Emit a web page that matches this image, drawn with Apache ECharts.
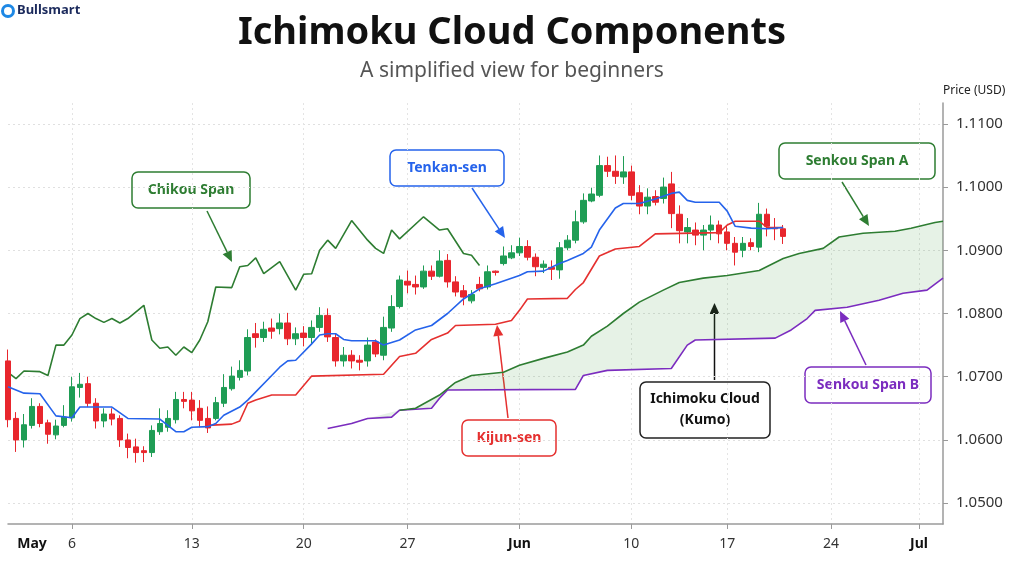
<!DOCTYPE html>
<html>
<head>
<meta charset="utf-8">
<title>Ichimoku Cloud Components</title>
<script src="https://cdn.jsdelivr.net/npm/echarts@6/dist/echarts.min.js"></script>
<style>
  html, body { margin: 0; padding: 0; background: #fff; }
  #chart { width: 1024px; height: 576px; }
</style>
</head>
<body>
<div id="chart"></div>
<script>
// x axis is counted in candle periods ("slots")
const slotCount = 118;
const tickSlots = [3, 8, 23, 37, 50, 64, 78, 90, 103, 114];
const tickLabels = ['May', '6', '13', '20', '27', 'Jun', '10', '17', '24', 'Jul'];
const monthLabels = ['May', 'Jun', 'Jul'];
const priceTicks = [1.05, 1.06, 1.07, 1.08, 1.09, 1.10, 1.11];

// candles: [open, close, low, high]
const candles = [
  [1.0725, 1.0632, 1.0620, 1.0743], [1.0634, 1.0600, 1.0581, 1.0644], [1.0600, 1.0624, 1.0588, 1.0641],
  [1.0623, 1.0653, 1.0618, 1.0666], [1.0653, 1.0626, 1.0620, 1.0658], [1.0627, 1.0609, 1.0594, 1.0632],
  [1.0608, 1.0622, 1.0601, 1.0632], [1.0623, 1.0636, 1.0620, 1.0655], [1.0635, 1.0684, 1.0629, 1.0700],
  [1.0683, 1.0688, 1.0667, 1.0706], [1.0689, 1.0658, 1.0652, 1.0700], [1.0658, 1.0630, 1.0618, 1.0666],
  [1.0630, 1.0641, 1.0620, 1.0650], [1.0641, 1.0633, 1.0623, 1.0650], [1.0634, 1.0600, 1.0589, 1.0639],
  [1.0600, 1.0588, 1.0571, 1.0610], [1.0589, 1.0580, 1.0564, 1.0602], [1.0583, 1.0580, 1.0565, 1.0590],
  [1.0580, 1.0615, 1.0573, 1.0623], [1.0613, 1.0626, 1.0608, 1.0650], [1.0620, 1.0634, 1.0613, 1.0647],
  [1.0632, 1.0664, 1.0626, 1.0676], [1.0664, 1.0661, 1.0650, 1.0676], [1.0663, 1.0646, 1.0631, 1.0676],
  [1.0650, 1.0631, 1.0620, 1.0663], [1.0634, 1.0619, 1.0611, 1.0653], [1.0634, 1.0659, 1.0631, 1.0668],
  [1.0658, 1.0683, 1.0652, 1.0704], [1.0681, 1.0701, 1.0678, 1.0716], [1.0699, 1.0710, 1.0694, 1.0726],
  [1.0709, 1.0762, 1.0702, 1.0775], [1.0768, 1.0762, 1.0746, 1.0785], [1.0762, 1.0775, 1.0755, 1.0787],
  [1.0777, 1.0772, 1.0760, 1.0792], [1.0776, 1.0785, 1.0767, 1.0800], [1.0785, 1.0760, 1.0750, 1.0801],
  [1.0760, 1.0768, 1.0750, 1.0778], [1.0769, 1.0762, 1.0748, 1.0780], [1.0762, 1.0778, 1.0752, 1.0789],
  [1.0778, 1.0797, 1.0771, 1.0810], [1.0797, 1.0763, 1.0755, 1.0808], [1.0762, 1.0725, 1.0716, 1.0768],
  [1.0725, 1.0734, 1.0716, 1.0747], [1.0734, 1.0725, 1.0713, 1.0742], [1.0726, 1.0723, 1.0710, 1.0734],
  [1.0725, 1.0750, 1.0716, 1.0762], [1.0755, 1.0736, 1.0731, 1.0759], [1.0734, 1.0778, 1.0726, 1.0795],
  [1.0777, 1.0811, 1.0771, 1.0829], [1.0811, 1.0853, 1.0808, 1.0860], [1.0851, 1.0845, 1.0832, 1.0868],
  [1.0846, 1.0842, 1.0830, 1.0860], [1.0842, 1.0867, 1.0839, 1.0876], [1.0867, 1.0859, 1.0853, 1.0876],
  [1.0859, 1.0883, 1.0857, 1.0900], [1.0884, 1.0850, 1.0841, 1.0894], [1.0850, 1.0834, 1.0827, 1.0859],
  [1.0836, 1.0826, 1.0813, 1.0845], [1.0820, 1.0830, 1.0816, 1.0837], [1.0846, 1.0839, 1.0835, 1.0858],
  [1.0842, 1.0866, 1.0838, 1.0876], [1.0867, 1.0865, 1.0860, 1.0868], [1.0879, 1.0891, 1.0876, 1.0906],
  [1.0888, 1.0896, 1.0886, 1.0908], [1.0896, 1.0906, 1.0891, 1.0920], [1.0906, 1.0889, 1.0884, 1.0916],
  [1.0889, 1.0874, 1.0859, 1.0895], [1.0873, 1.0878, 1.0864, 1.0884], [1.0873, 1.0870, 1.0853, 1.0884],
  [1.0869, 1.0904, 1.0855, 1.0913], [1.0904, 1.0916, 1.0900, 1.0924], [1.0916, 1.0945, 1.0911, 1.0963],
  [1.0945, 1.0979, 1.0942, 1.0990], [1.0978, 1.0989, 1.0976, 1.0999], [1.0987, 1.1034, 1.0984, 1.1050],
  [1.1034, 1.1025, 1.1016, 1.1048], [1.1025, 1.1017, 1.1005, 1.1050], [1.1016, 1.1024, 1.1005, 1.1049],
  [1.1024, 1.0987, 1.0979, 1.1034], [1.0991, 1.0970, 1.0957, 1.1003], [1.0970, 1.0984, 1.0957, 1.0998],
  [1.0985, 1.0976, 1.0971, 1.0995], [1.0982, 1.1000, 1.0974, 1.1015], [1.1005, 1.0958, 1.0935, 1.1024],
  [1.0957, 1.0931, 1.0911, 1.0971], [1.0929, 1.0936, 1.0911, 1.0951], [1.0932, 1.0924, 1.0908, 1.0944],
  [1.0924, 1.0932, 1.0900, 1.0940], [1.0932, 1.0940, 1.0916, 1.0955], [1.0940, 1.0926, 1.0911, 1.0947],
  [1.0929, 1.0911, 1.0900, 1.0940], [1.0911, 1.0897, 1.0876, 1.0921], [1.0900, 1.0911, 1.0889, 1.0921],
  [1.0912, 1.0906, 1.0900, 1.0919], [1.0905, 1.0957, 1.0897, 1.0975], [1.0957, 1.0938, 1.0922, 1.0966],
  [1.0936, 1.0934, 1.0916, 1.0951], [1.0934, 1.0922, 1.0910, 1.0940]
];

// ichimoku lines, vertices as [slot, price]
const tenkan = [
  [0, 1.0684], [2, 1.0674], [4, 1.0673], [6, 1.0638], [8, 1.0635], [9, 1.0652], [13, 1.0652], [15, 1.0634],
  [19, 1.0633], [21, 1.0613], [22, 1.0613], [23, 1.0620], [25, 1.0621], [26, 1.0626], [27, 1.0639], [29, 1.0652],
  [30, 1.0663], [33, 1.0702], [34, 1.0715], [35, 1.0725], [36, 1.0726], [38, 1.0752], [39, 1.0766], [40, 1.0768],
  [41, 1.0768], [42, 1.0759], [43, 1.0757], [46, 1.0757], [47, 1.0750], [49, 1.0758], [51, 1.0774], [53, 1.0781],
  [55, 1.0800], [57, 1.0823], [59, 1.0839], [61, 1.0847], [64, 1.0860], [65, 1.0866], [67, 1.0867], [69, 1.0879],
  [70, 1.0884], [72, 1.0895], [73, 1.0905], [74, 1.0932], [76, 1.0967], [77, 1.0974], [79, 1.0974], [81, 1.0981],
  [83, 1.0990], [84, 1.0992], [85, 1.0979], [86, 1.0976], [89, 1.0976], [90, 1.0962], [91, 1.0938], [93, 1.0935],
  [95, 1.0934], [97, 1.0936]
];
const kijun = [
  [25, 1.0623], [28, 1.0625], [29, 1.0630], [30, 1.0658], [31, 1.0663], [33, 1.0671], [36, 1.0671], [38, 1.0701],
  [47, 1.0704], [49, 1.0732], [51, 1.0737], [53, 1.0759], [55, 1.0769], [56, 1.0781], [61, 1.0783], [63, 1.0789],
  [64, 1.0805], [65, 1.0823], [70, 1.0824], [71, 1.0838], [72, 1.0849], [74, 1.0891], [76, 1.0902], [79, 1.0906],
  [80, 1.0916], [81, 1.0926], [89, 1.0928], [90, 1.0940], [91, 1.0946], [94, 1.0946], [95, 1.0936], [97, 1.0936]
];
const chikou = [
  [0, 1.0707], [1, 1.0697], [2, 1.0709], [4, 1.0708], [5, 1.0702], [6, 1.0750], [7, 1.0750], [8, 1.0766],
  [9, 1.0792], [10, 1.0800], [11, 1.0792], [12, 1.0786], [13, 1.0792], [14, 1.0785], [15, 1.0792], [17, 1.0813],
  [18, 1.0758], [19, 1.0745], [20, 1.0747], [21, 1.0734], [22, 1.0747], [23, 1.0738], [24, 1.0758], [25, 1.0787],
  [26, 1.0842], [28, 1.0841], [29, 1.0874], [30, 1.0876], [31, 1.0888], [32, 1.0863], [34, 1.0882], [36, 1.0837],
  [37, 1.0862], [38, 1.0863], [39, 1.0900], [40, 1.0916], [41, 1.0903], [43, 1.0947], [45, 1.0916], [46, 1.0903],
  [47, 1.0895], [48, 1.0932], [49, 1.0918], [52, 1.0953], [54, 1.0932], [55, 1.0934], [57, 1.0895], [58, 1.0892],
  [59, 1.0876]
];
const senkouA = [
  [49, 1.0647], [51, 1.0650], [54, 1.0671], [56, 1.0691], [58, 1.0702], [62, 1.0707], [64, 1.0718], [67, 1.0729],
  [70, 1.0739], [72, 1.0750], [73, 1.0764], [75, 1.0780], [77, 1.0800], [79, 1.0818], [82, 1.0837], [84, 1.0849],
  [87, 1.0856], [90, 1.0860], [94, 1.0868], [97, 1.0887], [99, 1.0895], [102, 1.0903], [104, 1.0921], [107, 1.0927],
  [111, 1.0930], [113, 1.0935], [116, 1.0944], [117, 1.0946]
];
const senkouB = [
  [40, 1.0618], [43, 1.0626], [45, 1.0634], [48, 1.0636], [49, 1.0647], [53, 1.0650], [54, 1.0666], [55, 1.0679],
  [71, 1.0680], [72, 1.0702], [75, 1.0710], [83, 1.0713], [85, 1.0750], [86, 1.0758], [96, 1.0761], [98, 1.0774],
  [100, 1.0792], [101, 1.0805], [105, 1.0810], [109, 1.0821], [112, 1.0832], [115, 1.0837], [117, 1.0856]
];

const FONT = "'Noto Sans', 'Open Sans', sans-serif";
const GREEN = '#2e7d32';
const BLUE = '#2563eb';
const RED = '#e5302f';
const PURPLE = '#7b2cbf';

const chart = echarts.init(document.getElementById('chart'));

// callout box with bold text
function callout(x, y, w, h, text, color, textColor) {
  return {
    type: 'group', x: x, y: y, z: 100,
    children: [
      { type: 'rect', shape: { x: 0, y: 0, width: w, height: h, r: 6 },
        style: { fill: '#fff', stroke: color, lineWidth: 1.5 } },
      { type: 'text', style: { text: text, x: w / 2, y: h / 2, align: 'center', verticalAlign: 'middle',
          fill: textColor || color, fontSize: 14, fontWeight: 'bold', fontFamily: FONT, lineHeight: 21 } }
    ]
  };
}

// straight arrow with filled head at (x2, y2)
function arrow(x1, y1, x2, y2, color) {
  const len = Math.hypot(x2 - x1, y2 - y1);
  const dx = (x2 - x1) / len, dy = (y2 - y1) / len;
  const bx = x2 - dx * 11, by = y2 - dy * 11;
  return {
    type: 'group', z: 100,
    children: [
      { type: 'line', shape: { x1: x1, y1: y1, x2: bx, y2: by }, style: { stroke: color, lineWidth: 1.5 } },
      { type: 'polygon', shape: { points: [[x2, y2], [bx - dy * 5, by + dx * 5], [bx + dy * 5, by - dx * 5]] },
        style: { fill: color } }
    ]
  };
}

function lineSeries(name, data, color, z) {
  return {
    name: name, type: 'line', data: data, showSymbol: false, symbol: 'none',
    connectNulls: true, z: z,
    lineStyle: { color: color, width: 1.6 },
    emphasis: { disabled: true }
  };
}

const slots = Array.from({ length: slotCount }, (_, i) => String(i));

const option = {
  animation: false,
  backgroundColor: '#fff',
  title: [
    { text: 'Ichimoku Cloud Components', left: 'center', top: 9,
      textStyle: { fontSize: 38, fontWeight: 'bold', color: '#111', fontFamily: FONT } },
    { text: 'A simplified view for beginners', left: 'center', top: 56,
      textStyle: { fontSize: 21, fontWeight: 'normal', color: '#555', fontFamily: FONT } }
  ],
  grid: { left: 8, right: 81, top: 103, bottom: 52 },
  xAxis: {
    type: 'category', data: slots, boundaryGap: false,
    axisLine: { lineStyle: { color: '#9a9a9a', width: 1.5 } },
    axisTick: { interval: (i) => i !== tickSlots[0] && tickSlots.includes(i), length: 5,
      lineStyle: { color: '#9a9a9a' } },
    axisLabel: {
      interval: (i) => tickSlots.includes(i), margin: 13, color: '#333', fontSize: 14, fontFamily: FONT,
      formatter: (v, i) => {
        const t = tickLabels[tickSlots.indexOf(Number(v))];
        return monthLabels.includes(t) ? '{m|' + t + '}' : t;
      },
      rich: { m: { fontWeight: 'bold', color: '#111', fontSize: 14, fontFamily: FONT } }
    },
    splitLine: { show: true, interval: (i) => i !== tickSlots[0] && tickSlots.includes(i),
      lineStyle: { color: '#e4e4e4', type: [2, 3] } }
  },
  yAxis: {
    type: 'value', position: 'right', min: 1.0467, max: 1.1133,
    name: 'Price (USD)', nameLocation: 'end', nameGap: 6,
    nameTextStyle: { color: '#222', fontSize: 12, fontFamily: FONT, align: 'left' },
    axisLine: { show: true, lineStyle: { color: '#9a9a9a', width: 1.5 } },
    axisTick: { show: true, length: 5, customValues: priceTicks, lineStyle: { color: '#9a9a9a' } },
    axisLabel: { customValues: priceTicks, formatter: (v) => v.toFixed(4), color: '#333', fontSize: 15,
      fontFamily: FONT, margin: 13 },
    splitLine: { show: true, lineStyle: { color: '#e0e0e0', type: [2, 3] } }
  },
  series: [
    {
      name: 'Kumo', type: 'custom', z: 1, silent: true,
      data: [[0, senkouA[0][1]]],
      renderItem: (params, api) => {
        const pts = senkouA.map((p) => api.coord(p))
          .concat(senkouB.slice().reverse().map((p) => api.coord(p)));
        return { type: 'polygon', shape: { points: pts }, style: { fill: 'rgba(76, 160, 80, 0.14)' } };
      }
    },
    lineSeries('Senkou Span B', senkouB, PURPLE, 3),
    lineSeries('Senkou Span A', senkouA, GREEN, 3),
    lineSeries('Chikou Span', chikou, GREEN, 3),
    {
      name: 'Price', type: 'candlestick', data: candles, barWidth: 6, clip: false, z: 4,
      itemStyle: { color: '#1f9d55', color0: '#e8262d', borderColor: '#1f9d55', borderColor0: '#e8262d',
        borderWidth: 1 },
      emphasis: { disabled: true }
    },
    lineSeries('Kijun-sen', kijun, RED, 5),
    lineSeries('Tenkan-sen', tenkan, BLUE, 5)
  ],
  graphic: [
    // logo
    { type: 'circle', shape: { cx: 8, cy: 11, r: 5.5 }, style: { fill: 'none', stroke: '#1e88e5', lineWidth: 3 } },
    { type: 'text', x: 17, y: 4, style: { text: 'Bullsmart', fill: '#1b2a5c', fontSize: 13, fontWeight: 'bold',
        fontFamily: FONT } },
    callout(132, 172, 118, 36, 'Chikou Span', GREEN),
    arrow(207, 211, 232, 262, GREEN),
    callout(390, 150, 114, 36, 'Tenkan-sen', BLUE),
    arrow(472, 188, 505, 238, BLUE),
    callout(779, 143, 156, 36, 'Senkou Span A', GREEN),
    arrow(842, 182, 869, 226, GREEN),
    callout(462, 420, 94, 36, 'Kijun-sen', RED),
    arrow(508, 418, 497, 325, RED),
    callout(640, 382, 130, 56, 'Ichimoku Cloud\n(Kumo)', '#222', '#111'),
    arrow(714.5, 380, 714.5, 303, '#111'),
    callout(805, 367, 126, 36, 'Senkou Span B', PURPLE),
    arrow(866, 365, 840, 311, PURPLE)
  ]
};

chart.setOption(option);
</script>
</body>
</html>
